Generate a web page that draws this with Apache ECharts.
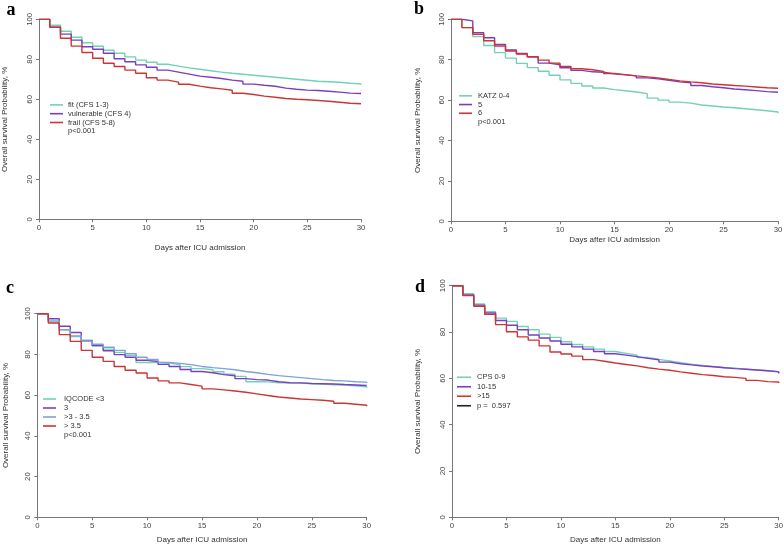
<!DOCTYPE html>
<html><head><meta charset="utf-8">
<script src="https://cdn.jsdelivr.net/npm/echarts@6/dist/echarts.min.js"></script>
<style>html,body{margin:0;padding:0;background:#fff}#c{width:784px;height:546px}</style>
</head><body><div id="c"></div>
<script>
// ---- data ----
const days = [0,1,2,3,4,5,6,7,8,9,10,11,12,13,14,15,16,17,18,19,20,21,22,23,24,25,26,27,28,29,30];
const xTicks = [0,5,10,15,20,25,30];
const yTicks = [0,20,40,60,80,100];

// panel a: Clinical Frailty Scale
const aNames = ['fit (CFS 1-3)','vulnerable (CFS 4)','frail (CFS 5-8)'];
const aFit = [100,97,94,91,88.3,86.5,84.5,83,81.2,79.6,78.5,77.5,76.6,75.7,75,74.3,73.6,73,72.5,72,71.5,71,70.5,70,69.5,69,68.8,68.5,68,67.7,67.3];
const aVulnerable = [100,96,92.6,89.6,86.3,85,83,80.3,78.8,77.2,76,74.6,73.6,72.6,71.6,71,70.4,69.6,69,67.6,67,66.5,65.6,65,64.6,64.4,64,63.6,63.1,62.9,62.6];
const aFrail = [100,96,90.5,86.6,83.4,80.5,78,76.4,74.6,73,70.8,69.6,68.6,67.5,66.6,65.8,65.2,64.5,63,62.4,61.6,61,60.4,60,59.8,59.4,59,58.5,58,57.8,57.6];
const aP = 'p<0.001';

// panel b: KATZ
const bNames = ['KATZ 0-4','5','6'];
const bKatz04 = [100,95.9,91.4,87,83.5,80.8,78.2,76.1,74.3,72.3,70,68.3,67,66,65.2,64.6,64,63.2,61,60,59,58.5,57.6,57.1,56.6,56.2,55.7,55.2,54.7,54.1,53.5];
const bKatz5 = [100,99.2,93.4,90.9,87.6,84.8,83.1,81.5,78.3,77.5,76,74.7,74,73.8,73,72.5,72,71,70.5,69.8,69,68.6,67.2,66.6,66.1,65.5,65.1,64.7,64.2,63.9,63.6];
const bKatz6 = [100,95.9,92.6,89.4,86.8,84.3,82.8,81.3,79.8,78.3,76.7,75.5,75,74.2,73.2,72.6,72,71.5,71,70.2,69.5,69,68.6,68,67.6,67.2,66.9,66.5,66.1,65.9,65.6];
const bP = 'p<0.001 ';

// panel c: IQCODE
const cNames = ['IQCODE <3','3','>3 - 3.5','> 3.5'];
const cIqLt3 = [100,96,92.1,88.8,86.6,84.2,82.6,81,79.6,76,76,75.8,75,74,73,72.5,71.5,70.3,69.2,66.6,66.5,66.1,66,65.9,65.6,65.5,65.1,65,64.6,64.1,63.6];
const cIq3 = [100,97.5,93.8,90.8,86.9,84.3,81.8,79.9,78.6,77.1,76.5,75.1,74.1,72.6,71.6,71,70.1,69.5,68.1,67.6,67.4,66.6,66.1,66,65.7,65.6,65.5,65.2,65,64.7,64.4];
const cIq3to35 = [100,96.5,92.1,89.1,86.6,85,83.5,82,80.4,78.6,77.5,76.1,75.6,75,74.1,73.5,73,72.5,71.6,71,70.2,69.6,69.1,68.6,68.1,67.6,67.2,67,66.6,66.4,66];
const cIqGt35 = [100,95.4,89.7,86.4,82,78.6,76.6,74.1,72.2,70.9,68.4,67,66,65.2,64.4,63.1,62.6,62,61.4,60.6,59.8,59.1,58.6,58.1,57.8,57.5,57,56,55.5,55,54.5];
const cP = 'p<0.001  ';

// panel d: CPS
const dNames = ['CPS 0-9','10-15','>15'];
const dCps09 = [100,96.5,92.1,88.8,86,84.6,82.4,81,79.1,77.7,75.8,74.6,73.6,72.6,71.6,70.8,70,69,68.2,67.5,66.8,66.1,65.6,65.1,64.7,64.4,64,63.6,63.3,62.9,62.4];
const dCps1015 = [100,96,91.6,88.2,85,82.9,81,78.7,77.4,76.1,74.7,73.6,72.6,71.6,70.6,70,69.4,68.6,68,67,66.3,65.8,65.3,65,64.6,64.2,63.9,63.6,63.3,62.8,62.1];
const dCps15 = [100,95.7,91.1,87.6,83.2,80.1,77.9,76.5,74,71.4,70.5,69.6,68.1,67.4,66.6,66,65.4,64.6,64,63.5,62.8,62.2,61.6,61.2,60.7,60.4,60,59.1,58.6,58.4,58];
const dP = 'p =  0.597';

const xTitle = 'Days after ICU admission';
const yTitle = 'Overall survival Probability, %';

// ---- styles ----
const TEAL = '#72d1b6', PURPLE = '#7a3fbf', RED = '#cc3535', BLUE = '#7fa2d6';
const FONT = '"Liberation Sans", Arial, sans-serif';

const panels = [
  {letter:'a', lpos:[11,10], grid:{left:39, top:19.3, width:322, height:200}, xGap:24, yGap:30,
   legend:{left:50, top:100.5, lh:8.8, tpad:0},
   series:[[aNames[0],aFit,TEAL],[aNames[1],aVulnerable,PURPLE],[aNames[2],aFrail,RED]], p:aP, pColor:null},
  {letter:'b', lpos:[419,9], grid:{left:451, top:19.3, width:327, height:202}, xGap:14, yGap:29,
   legend:{left:459, top:91.5, lh:8.7, tpad:1},
   series:[[bNames[0],bKatz04,TEAL],[bNames[1],bKatz5,PURPLE],[bNames[2],bKatz6,RED]], p:bP, pColor:null},
  {letter:'c', lpos:[10,288], grid:{left:37.3, top:313.7, width:329.4, height:203.6}, xGap:18.7, yGap:28,
   legend:{left:43, top:394.5, lh:9, tpad:3},
   series:[[cNames[0],cIqLt3,TEAL],[cNames[1],cIq3,PURPLE],[cNames[2],cIq3to35,BLUE],[cNames[3],cIqGt35,RED]], p:cP, pColor:null},
  {letter:'d', lpos:[420,287], grid:{left:452, top:285.7, width:326.7, height:231.6}, xGap:18.7, yGap:30,
   legend:{left:457, top:372.5, lh:9.5, tpad:1, w:14},
   series:[[dNames[0],dCps09,TEAL],[dNames[1],dCps1015,PURPLE],[dNames[2],dCps15,RED]], p:dP, pColor:'#222'}
];

const option = {animation:false, backgroundColor:'#fff', grid:[], xAxis:[], yAxis:[], series:[], legend:[], graphic:[]};

panels.forEach((P, i) => {
  option.grid.push(Object.assign({outerBoundsMode:'none', containLabel:false}, P.grid));
  option.xAxis.push({
    type:'value', gridIndex:i, min:xTicks[0], max:xTicks[xTicks.length-1], interval:5,
    name:xTitle, nameLocation:'middle', nameGap:P.xGap,
    nameTextStyle:{fontFamily:FONT, fontSize:8, color:'#333'},
    axisLine:{show:true, onZero:false, lineStyle:{color:'#777', width:1}},
    axisTick:{show:true, length:3, lineStyle:{color:'#777'}},
    axisLabel:{fontFamily:FONT, fontSize:7.8, color:'#444', margin:5},
    splitLine:{show:false}
  });
  option.yAxis.push({
    type:'value', gridIndex:i, min:yTicks[0], max:yTicks[yTicks.length-1], interval:20,
    name:yTitle, nameLocation:'middle', nameGap:P.yGap, nameRotate:90,
    nameTextStyle:{fontFamily:FONT, fontSize:8, color:'#333'},
    axisLine:{show:true, onZero:false, lineStyle:{color:'#777', width:1}},
    axisTick:{show:true, length:3, lineStyle:{color:'#777'}},
    axisLabel:{fontFamily:FONT, fontSize:7.8, color:'#444', rotate:90, margin:5},
    splitLine:{show:false}
  });
  const names = [];
  P.series.forEach(([name, vals, color]) => {
    names.push(name);
    option.series.push({
      type:'line', name, xAxisIndex:i, yAxisIndex:i, step:'end', showSymbol:false, symbol:'none',
      color, lineStyle:{color, width:1.4},
      data: days.map((d, k) => [d, vals[k]])
    });
  });
  names.push(P.p);
  option.series.push({
    type:'line', name:P.p, xAxisIndex:i, yAxisIndex:i, data:[], symbol:'none',
    color: P.pColor || 'rgba(0,0,0,0)', lineStyle:{color:P.pColor || 'rgba(0,0,0,0)'}
  });
  option.legend.push({
    orient:'vertical', left:P.legend.left, top:P.legend.top, padding:0, itemGap:0,
    itemWidth:P.legend.w || 13, itemHeight:1.6, icon:'rect', selectedMode:false,
    textStyle:{fontFamily:FONT, fontSize:7.5, color:'#333', lineHeight:P.legend.lh, padding:[0,0,0,P.legend.tpad]},
    data:names
  });
  option.graphic.push({
    type:'text', x:P.lpos[0], y:P.lpos[1],
    style:{text:P.letter, font:'bold 18px "Liberation Serif", "DejaVu Serif", serif', fill:'#000', align:'center', verticalAlign:'middle'}
  });
});

const chart = echarts.init(document.getElementById('c'), null, {renderer:'canvas'});
chart.setOption(option);
</script></body></html>
